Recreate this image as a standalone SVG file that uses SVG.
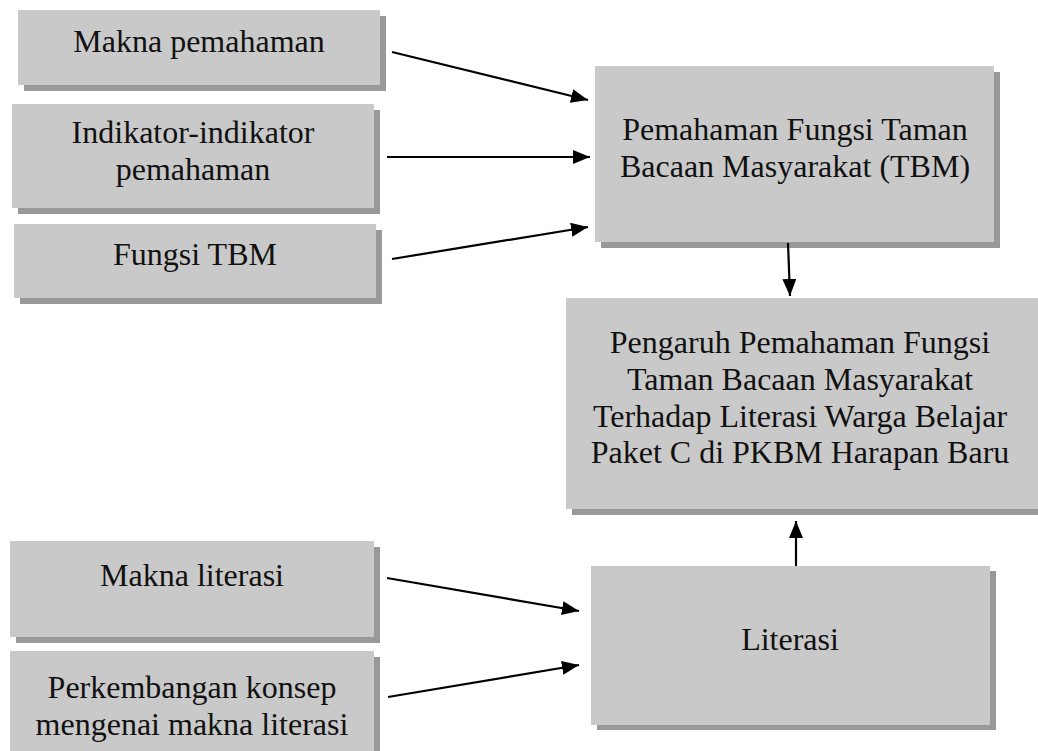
<svg xmlns="http://www.w3.org/2000/svg" width="1038" height="751" viewBox="0 0 1038 751">
<style>
.box{fill:#c9c9c9}
.sh{fill:#999999}
.t{font-family:"Liberation Serif","Times New Roman",serif;font-size:32px;fill:#111;text-anchor:middle}
.c{stroke:#000;stroke-width:2.2;fill:none;marker-end:url(#ah)}
</style>
<defs>
<marker id="ah" markerUnits="userSpaceOnUse" markerWidth="18" markerHeight="14" refX="17" refY="7" orient="auto">
<path d="M0,0 L17,7 L0,14 Z" fill="#000"/>
</marker>
</defs>
<rect width="1038" height="751" fill="#fff"/>
<g id="n1">
<rect class="sh" x="24" y="16" width="362" height="75"/>
<rect class="box" x="18" y="10" width="362" height="75"/>
<text class="t" x="199" y="52">Makna pemahaman</text>
</g>
<g id="n2">
<rect class="sh" x="18" y="110" width="362" height="104"/>
<rect class="box" x="12" y="104" width="362" height="104"/>
<text class="t" x="193" y="143">Indikator-indikator</text>
<text class="t" x="193" y="180">pemahaman</text>
</g>
<g id="n3">
<rect class="sh" x="20" y="230" width="362" height="74"/>
<rect class="box" x="14" y="224" width="362" height="74"/>
<text class="t" x="195" y="265">Fungsi TBM</text>
</g>
<g id="n4">
<rect class="sh" x="601" y="72" width="399" height="176"/>
<rect class="box" x="595" y="66" width="399" height="176"/>
<text class="t" x="795" y="140">Pemahaman Fungsi Taman</text>
<text class="t" x="795" y="177">Bacaan Masyarakat (TBM)</text>
</g>
<g id="n5">
<rect class="sh" x="572" y="304" width="472" height="211"/>
<rect class="box" x="566" y="298" width="472" height="211"/>
<text class="t" x="800" y="353">Pengaruh Pemahaman Fungsi</text>
<text class="t" x="800" y="390">Taman Bacaan Masyarakat</text>
<text class="t" x="800" y="427">Terhadap Literasi Warga Belajar</text>
<text class="t" x="800" y="463">Paket C di PKBM Harapan Baru</text>
</g>
<g id="n6">
<rect class="sh" x="16" y="547" width="364" height="96"/>
<rect class="box" x="10" y="541" width="364" height="96"/>
<text class="t" x="192" y="586">Makna literasi</text>
</g>
<g id="n7">
<rect class="sh" x="16" y="657" width="364" height="110"/>
<rect class="box" x="10" y="651" width="364" height="110"/>
<text class="t" x="192" y="698">Perkembangan konsep</text>
<text class="t" x="192" y="735">mengenai makna literasi</text>
</g>
<g id="n8">
<rect class="sh" x="597" y="571" width="399" height="159"/>
<rect class="box" x="591" y="566" width="399" height="159"/>
<text class="t" x="790" y="650">Literasi</text>
</g>
<g id="connectors">
<line class="c" x1="392" y1="52" x2="588" y2="100"/>
<line class="c" x1="387" y1="157" x2="590" y2="157"/>
<line class="c" x1="392" y1="259" x2="588" y2="227"/>
<line class="c" x1="788" y1="243" x2="790" y2="296"/>
<line class="c" x1="796" y1="566" x2="796" y2="521"/>
<line class="c" x1="387" y1="578" x2="579" y2="611"/>
<line class="c" x1="388" y1="697" x2="579" y2="665"/>
</g>
</svg>
